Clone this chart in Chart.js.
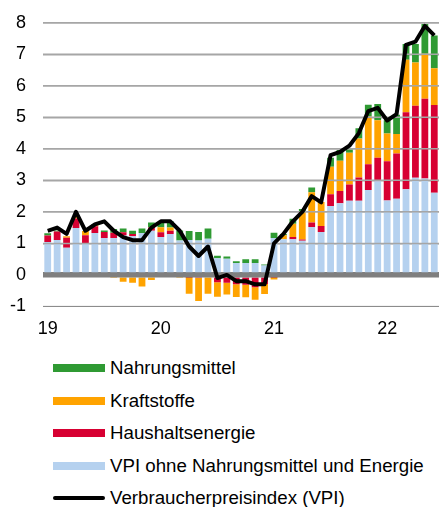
<!DOCTYPE html>
<html>
<head>
<meta charset="utf-8">
<script src="https://cdn.jsdelivr.net/npm/chart.js@4.4.0/dist/chart.umd.min.js"></script>
<style>
  body { margin: 0; background: #fff; font-family: 'Liberation Sans', Arial, sans-serif; }
  #wrap { position: relative; width: 439px; height: 507px; overflow: hidden; }
  #box { position: absolute; left: 0; top: -5px; width: 439px; height: 349px; }
  #legend { position: absolute; left: 53px; top: 352px; }
  .row { height: 32.5px; display: flex; align-items: center; font-size: 18.7px; color: #000; }
  .sw { width: 52px; margin-right: 5px; }
</style>
</head>
<body>
<div id="wrap">
  <div id="box"><canvas id="c"></canvas></div>
  <div id="legend"></div>
</div>
<script>
const months = [
  'Jan 19','Feb 19','Mar 19','Apr 19','May 19','Jun 19','Jul 19','Aug 19','Sep 19','Oct 19','Nov 19','Dec 19',
  'Jan 20','Feb 20','Mar 20','Apr 20','May 20','Jun 20','Jul 20','Aug 20','Sep 20','Oct 20','Nov 20','Dec 20',
  'Jan 21','Feb 21','Mar 21','Apr 21','May 21','Jun 21','Jul 21','Aug 21','Sep 21','Oct 21','Nov 21','Dec 21',
  'Jan 22','Feb 22','Mar 22','Apr 22','May 22','Jun 22'
]
const yearLabels = ['19', '20', '21', '22']

// VPI ohne Nahrungsmittel und Energie
const core = [
  1.04, 1.11, 0.86, 1.49, 0.99, 1.33, 1.17, 1.17, 1.25, 1.23, 1.33, 1.40,
  1.20, 1.30, 1.09, 1.11, 1.09, 1.15, 0.53, 0.51, 0.38, 0.38, 0.38, 0.30,
  1.17, 1.13, 1.13, 1.08, 1.52, 1.36, 2.19, 2.27, 2.35, 2.35, 2.69, 2.97,
  2.36, 2.42, 2.72, 3.08, 3.06, 2.61
]
const householdEnergy = [
  0.21, 0.27, 0.32, 0.30, 0.27, 0.21, 0.19, 0.17, 0.10, 0.07, 0, 0.10,
  0.15, 0.10, 0, -0.03, -0.10, 0, -0.23, -0.25, -0.30, -0.31, -0.39, -0.29,
  -0.05, 0, 0.07, 0.04, 0.14, 0.19, 0.37, 0.39, 0.52, 0.74, 0.82, 0.75,
  1.25, 1.43, 2.44, 2.29, 2.53, 2.78
]
const fuels = [
  0, 0, 0.05, 0.07, 0.13, 0.04, 0, -0.10, -0.22, -0.25, -0.37, -0.16,
  0.16, 0.10, -0.10, -0.57, -0.73, -0.60, -0.46, -0.37, -0.40, -0.40, -0.40, -0.32,
  -0.10, 0.13, 0.42, 0.87, 0.96, 0.76, 0.87, 0.96, 1.01, 1.24, 1.52, 1.19,
  0.88, 0.62, 1.67, 1.37, 1.43, 1.17
]
const food = [
  0.07, 0.03, 0, 0, 0, 0.03, 0.05, 0.12, 0.12, 0.10, 0.14, 0.16,
  0.16, 0.20, 0.32, 0.28, 0.27, 0.32, 0.08, 0.07, 0.05, 0.12, 0.12, 0.03,
  0.17, 0.04, 0.16, 0.10, 0.15, 0, 0.29, 0.34, 0.10, 0.32, 0.37, 0.51,
  0.42, 0.61, 0.50, 0.59, 0.94, 1.04
]
const cpi = [
  1.4, 1.5, 1.3, 2.0, 1.4, 1.6, 1.7, 1.4, 1.2, 1.1, 1.1, 1.5,
  1.7, 1.7, 1.4, 0.9, 0.6, 0.9, -0.1, 0.0, -0.2, -0.2, -0.3, -0.3,
  1.0, 1.3, 1.7, 2.0, 2.5, 2.3, 3.8, 3.9, 4.1, 4.5, 5.2, 5.3,
  4.9, 5.1, 7.3, 7.4, 7.9, 7.6
]

const FONT = "'Liberation Sans', Arial, sans-serif"

function bar(label, data, color) {
  return {
    type: 'bar', label: label, data: data, backgroundColor: color,
    borderWidth: 0, barPercentage: 0.72, categoryPercentage: 1, order: 1
  }
}

function gridStyle(v) {
  if (v === 0) return { color: '#7f7f7f', width: 5 }
  if (v === -1) return { color: '#8c8c8c', width: 1 }
  return { color: '#a6a6a6', width: 1.5 }
}

// draw the grid again over the bars, below the line
const gridOver = {
  id: 'gridOver',
  beforeDatasetDraw(chart, args) {
    if (chart.data.datasets[args.index].type !== 'line') return
    const ctx = chart.ctx, area = chart.chartArea, y = chart.scales.y
    ctx.save()
    y.ticks.forEach(t => {
      const s = gridStyle(t.value)
      const py = y.getPixelForValue(t.value)
      ctx.strokeStyle = s.color
      ctx.lineWidth = s.width
      ctx.beginPath()
      ctx.moveTo(area.left, py)
      ctx.lineTo(area.right, py)
      ctx.stroke()
    })
    ctx.restore()
  }
}

const datasets = [
  bar('VPI ohne Nahrungsmittel und Energie', core, '#b5d1ef'),
  bar('Haushaltsenergie', householdEnergy, '#d70032'),
  bar('Kraftstoffe', fuels, '#ffa300'),
  bar('Nahrungsmittel', food, '#2f9a33'),
  {
    type: 'line', label: 'Verbraucherpreisindex (VPI)', data: cpi,
    borderColor: '#000', borderWidth: 4, pointRadius: 0, tension: 0,
    borderJoinStyle: 'round', fill: false, order: 0
  }
]

const chart = new Chart(document.getElementById('c'), {
  data: { labels: months, datasets: datasets },
  plugins: [gridOver],
  options: {
    responsive: true,
    maintainAspectRatio: false,
    animation: false,
    layout: { padding: { top: 8, right: 0, left: 0, bottom: 0 } },
    plugins: { legend: { display: false }, tooltip: { enabled: false } },
    scales: {
      x: {
        stacked: true,
        grid: { display: false },
        border: { display: false },
        ticks: {
          autoSkip: false, maxRotation: 0, padding: 4, color: '#000',
          font: { family: FONT, size: 18 },
          callback: (v, i) => i % 12 === 0 ? yearLabels[i / 12] : ''
        }
      },
      y: {
        stacked: true,
        min: -1, max: 8,
        afterFit: s => { s.width = 43 },
        border: { display: false },
        grid: {
          drawTicks: false,
          color: c => gridStyle(c.tick.value).color,
          lineWidth: c => gridStyle(c.tick.value).width
        },
        ticks: { stepSize: 1, padding: 17, color: '#000', font: { family: FONT, size: 18 } }
      }
    }
  }
})

// legend, top to bottom
const legendOrder = [3, 2, 1, 0, 4]
const legend = document.getElementById('legend')
legendOrder.forEach(i => {
  const ds = datasets[i]
  const row = document.createElement('div')
  row.className = 'row'
  const sw = document.createElement('div')
  sw.className = 'sw'
  if (ds.type === 'line') {
    sw.style.height = '4px'
    sw.style.borderRadius = '2px'
    sw.style.background = ds.borderColor
  } else {
    sw.style.height = '8px'
    sw.style.background = ds.backgroundColor
  }
  const txt = document.createElement('span')
  txt.textContent = ds.label
  row.appendChild(sw)
  row.appendChild(txt)
  legend.appendChild(row)
})
</script>
</body>
</html>
